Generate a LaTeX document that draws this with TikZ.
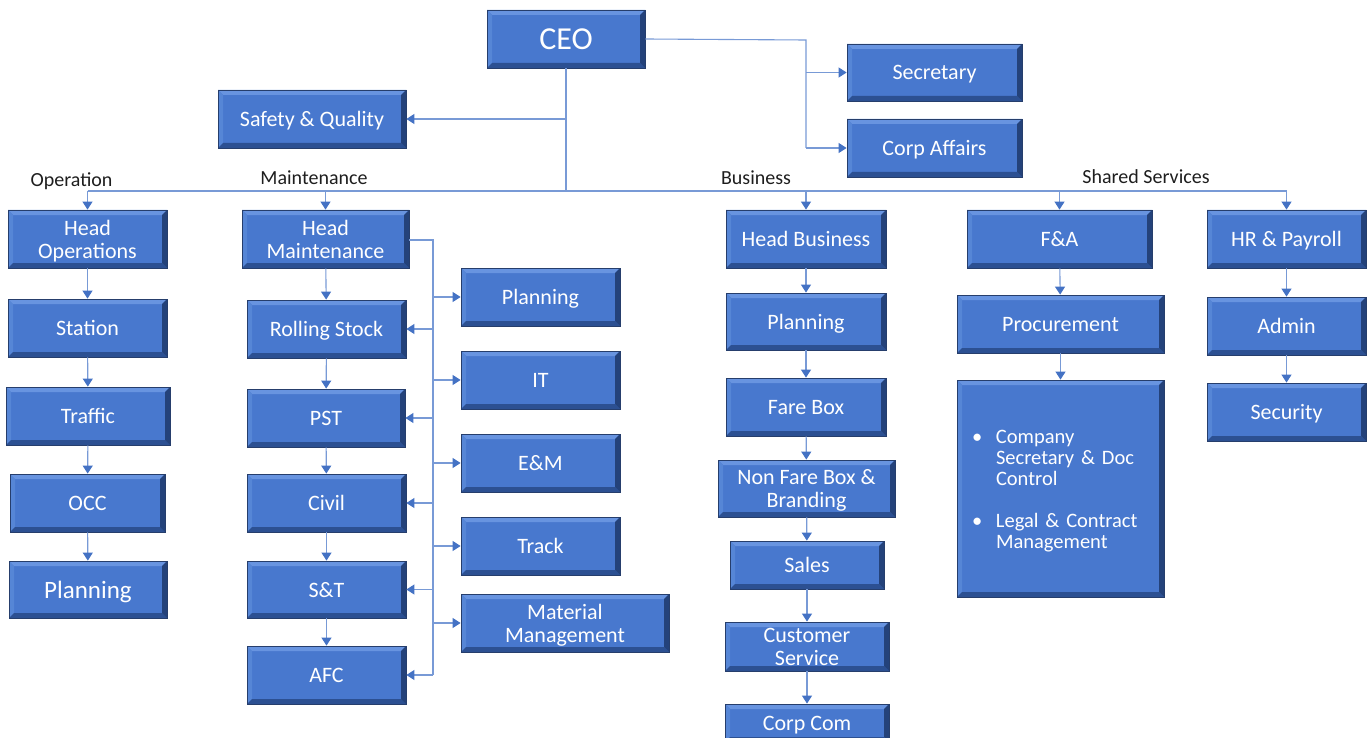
\documentclass[tikz,border=0pt]{standalone}
\usepackage{fontspec}
\setmainfont{Carlito}
\usetikzlibrary{arrows.meta,calc}
\definecolor{boxblue}{RGB}{72,120,206}
\definecolor{boxedge}{RGB}{38,62,108}
\definecolor{bevtop}{RGB}{104,148,224}
\definecolor{bevleft}{RGB}{86,134,214}
\definecolor{bevbot}{RGB}{44,80,146}
\definecolor{bevright}{RGB}{36,66,122}
\definecolor{lineblue}{RGB}{120,154,214}
\definecolor{arrowblue}{RGB}{68,114,196}
\definecolor{labeltext}{RGB}{30,30,30}
\begin{document}
\begin{tikzpicture}[x=1pt,y=-1pt,
  box/.style={rectangle, fill=boxblue, draw=boxedge, line width=0.8pt, text=white,
    align=center, inner sep=0pt, text depth=0pt, font=\fontsize{22}{23}\selectfont,
    path picture={
      \fill[bevtop] (path picture bounding box.north west) -- (path picture bounding box.north east)
        -- ++(-5pt,-5pt) -- ([shift={(5pt,-5pt)}]path picture bounding box.north west) -- cycle;
      \fill[bevleft] (path picture bounding box.north west) -- (path picture bounding box.south west)
        -- ++(5pt,5pt) -- ([shift={(5pt,-5pt)}]path picture bounding box.north west) -- cycle;
      \fill[bevbot] (path picture bounding box.south west) -- (path picture bounding box.south east)
        -- ++(-5pt,5pt) -- ([shift={(5pt,5pt)}]path picture bounding box.south west) -- cycle;
      \fill[bevright] (path picture bounding box.north east) -- (path picture bounding box.south east)
        -- ++(-5pt,5pt) -- ([shift={(-5pt,-5pt)}]path picture bounding box.north east) -- cycle;
    }},
  con/.style={draw=lineblue, line width=1.1pt},
  arr/.style={con, -{Triangle[length=8pt,width=10pt,color=arrowblue]}},
  grp/.style={text=labeltext, font=\fontsize{20}{22}\selectfont, inner sep=0pt}
]
\useasboundingbox (0,0) rectangle (1370,738);

% top level
\node[box, minimum width=158pt, minimum height=58pt, font=\fontsize{32}{32}\selectfont] (ceo) at (566,39) {CEO};
\node[box, minimum width=188pt, minimum height=58pt] (sq) at (312,119) {Safety \& Quality};
\node[box, minimum width=175pt, minimum height=57pt] (sec) at (934.5,72.5) {Secretary};
\node[box, minimum width=175pt, minimum height=58pt] (ca) at (934.5,148) {Corp Affairs};

% group labels
\node[grp] (lop) at (71.5,181) {Operation};
\node[grp] (lma) at (314,178) {Maintenance};
\node[grp] (lbu) at (756,178) {Business};
\node[grp] (lss) at (1146,177) {Shared Services};

% operation
\node[box, minimum width=159pt, minimum height=58pt] (ho) at (87.5,239) {Head\\Operations};
\node[box, minimum width=159pt, minimum height=58pt] (sta) at (87.5,328) {Station};
\node[box, minimum width=164pt, minimum height=58pt] (tra) at (88,416) {Traffic};
\node[box, minimum width=155pt, minimum height=58pt] (occ) at (87.5,503) {OCC};
\node[box, minimum width=158pt, minimum height=57pt, font=\fontsize{25}{25}\selectfont] (opl) at (88,589.5) {Planning};

% maintenance
\node[box, minimum width=167pt, minimum height=58pt] (hm) at (325.5,239) {Head\\Maintenance};
\node[box, minimum width=159pt, minimum height=58pt] (rs) at (326.5,329) {Rolling Stock};
\node[box, minimum width=158pt, minimum height=58pt] (pst) at (326,418) {PST};
\node[box, minimum width=159pt, minimum height=58pt] (civ) at (326.5,503) {Civil};
\node[box, minimum width=159pt, minimum height=57pt] (st) at (326.5,589.5) {S\&T};
\node[box, minimum width=159pt, minimum height=58pt] (afc) at (326.5,675) {AFC};
\node[box, minimum width=159pt, minimum height=58pt] (mpl) at (540.5,297) {Planning};
\node[box, minimum width=159pt, minimum height=58pt] (it) at (540.5,380) {IT};
\node[box, minimum width=159pt, minimum height=58pt] (em) at (540.5,463) {E\&M};
\node[box, minimum width=159pt, minimum height=58pt] (trk) at (540.5,546) {Track};
\node[box, minimum width=208pt, minimum height=58pt] (mm) at (565,623) {Material\\Management};

% business
\node[box, minimum width=160pt, minimum height=58pt] (hb) at (806,239) {Head Business};
\node[box, minimum width=160pt, minimum height=57pt] (bpl) at (806,321.5) {Planning};
\node[box, minimum width=160pt, minimum height=58pt] (fb) at (806,407) {Fare Box};
\node[box, minimum width=177pt, minimum height=57pt] (nfb) at (806.5,488.5) {Non Fare Box \&\\Branding};
\node[box, minimum width=154pt, minimum height=48pt] (sal) at (807,565) {Sales};
\node[box, minimum width=164pt, minimum height=49pt] (cs) at (807,646.5) {Customer\\Service};
\node[box, minimum width=164pt, minimum height=38pt] (cc) at (807,723) {Corp Com};

% shared services
\node[box, minimum width=207pt, minimum height=217pt, text width=177pt, inner xsep=15pt, align=left,
      text depth=52pt, font=\fontsize{20.5}{21}\selectfont] (bul) at (1060.5,488.5)
  {\begin{tabular}{@{}p{24pt}@{}l@{}}
   \textbullet & Company\\
               & Secretary \& Doc\\
               & Control\\[21pt]
   \textbullet & Legal \& Contract\\
               & Management
   \end{tabular}};
\node[box, minimum width=185pt, minimum height=58pt] (fa) at (1059.5,239) {F\&A};
\node[box, minimum width=207pt, minimum height=58pt] (pro) at (1060.5,324) {Procurement};
\node[box, minimum width=159pt, minimum height=58pt] (hr) at (1286.5,239) {HR \& Payroll};
\node[box, minimum width=159pt, minimum height=58pt] (adm) at (1286.5,326) {Admin};
\node[box, minimum width=159pt, minimum height=58pt] (scy) at (1286.5,412) {Security};

% CEO connectors
\coordinate (cr) at (806,40);
\coordinate (bus) at (566,191);
\draw[con] (ceo.east) -- (cr) -- (cr |- ca.west);
\draw[arr] (cr |- sec.west) -- (sec.west);
\draw[arr] (cr |- ca.west) -- (ca.west);
\draw[con] (ceo.south) -- (bus);
\draw[arr] (ceo.south |- sq.east) -- (sq.east);
\draw[con] (ho.north |- bus) -- (hr.north |- bus);
\foreach \n in {ho,hm,hb,fa,hr} \draw[arr] (\n.north |- bus) -- (\n.north);

% chains
\draw[arr] (ho) -- (sta);
\draw[arr] (sta) -- (tra);
\draw[arr] (tra) -- (occ);
\draw[arr] (occ) -- (opl);
\draw[arr] (hm) -- (rs);
\draw[arr] (rs) -- (pst);
\draw[arr] (pst) -- (civ);
\draw[arr] (civ) -- (st);
\draw[arr] (st) -- (afc);
\draw[arr] (hb) -- (bpl);
\draw[arr] (bpl) -- (fb);
\draw[arr] (fb) -- (nfb);
\draw[arr] (nfb) -- (sal);
\draw[arr] (sal) -- (cs);
\draw[arr] (cs) -- (cc);
\draw[arr] (fa) -- (pro);
\draw[arr] (pro) -- (bul);
\draw[arr] (hr) -- (adm);
\draw[arr] (adm) -- (scy);

% maintenance side bus
\coordinate (mr) at (433,240);
\draw[con] (hm.east |- mr) -- (mr) -- (mr |- afc.east);
\foreach \n in {rs,pst,civ,st,afc} \draw[arr] (mr |- \n.east) -- (\n.east);
\foreach \n in {mpl,it,em,trk,mm} \draw[arr] (mr |- \n.west) -- (\n.west);
\end{tikzpicture}
\end{document}
